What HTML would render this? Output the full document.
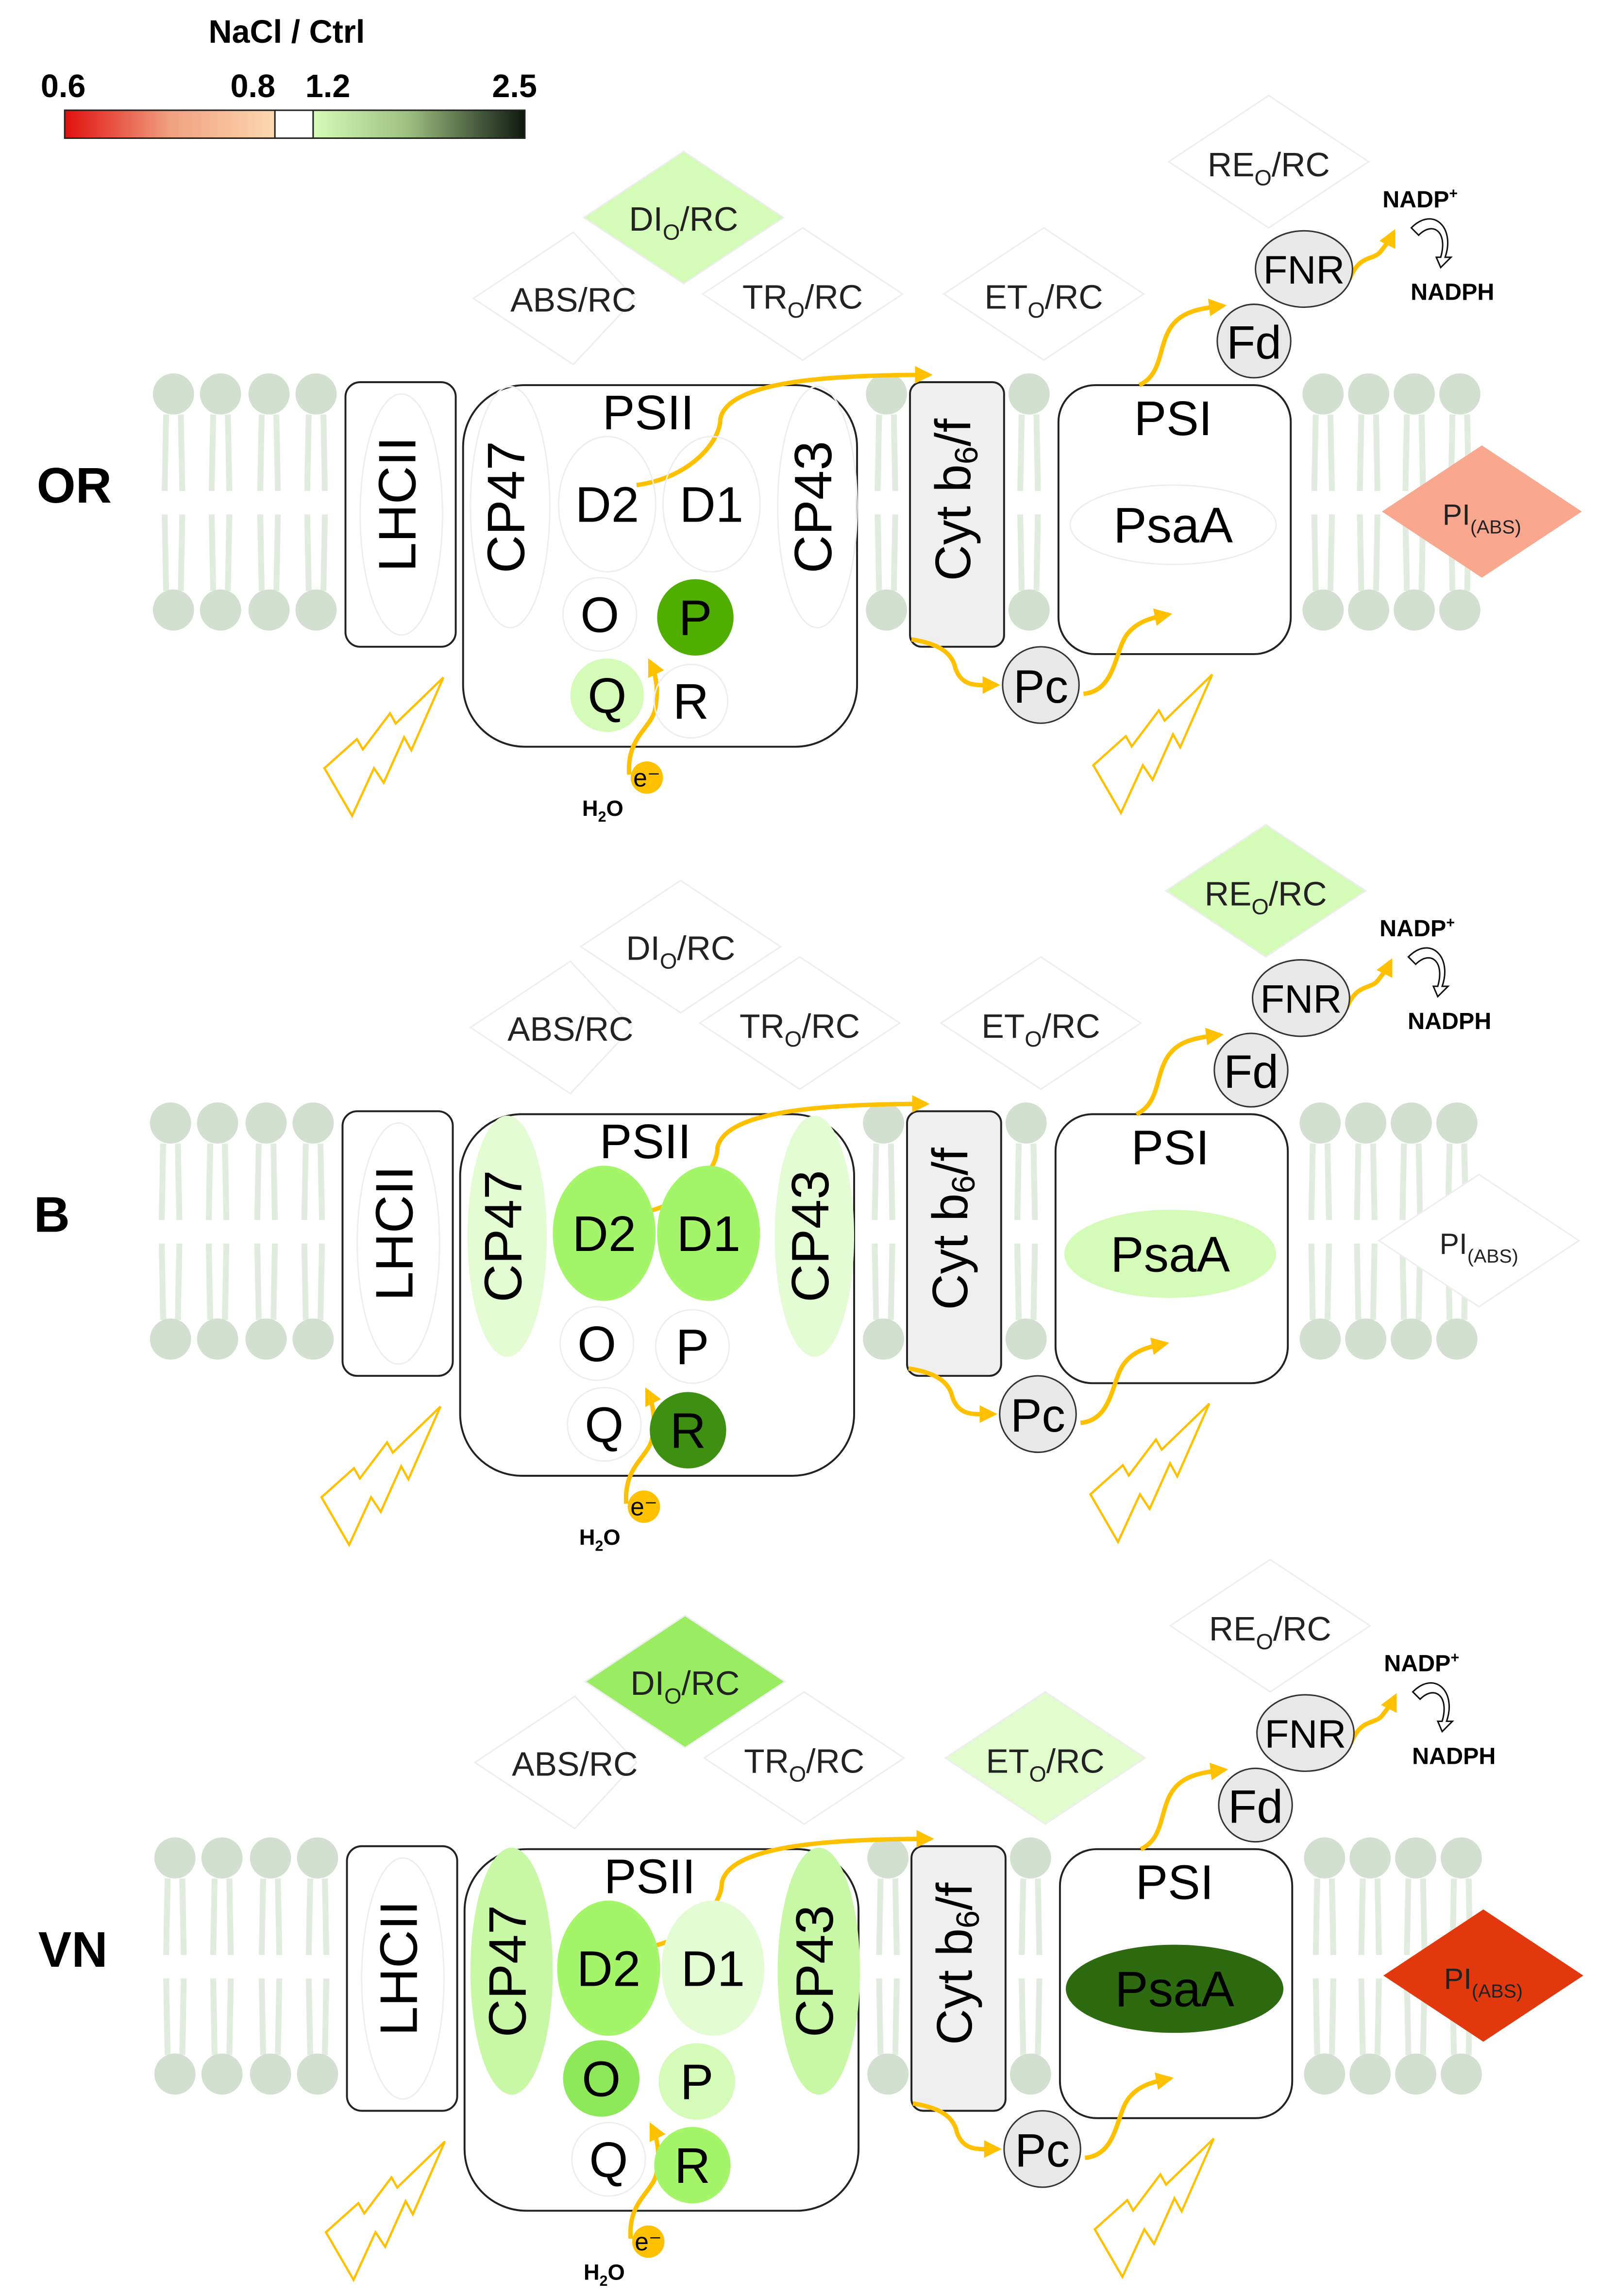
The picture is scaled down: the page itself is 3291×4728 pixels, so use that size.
<!DOCTYPE html>
<html><head><meta charset="utf-8"><style>html,body{margin:0;padding:0;background:#fff}svg{display:block}</style></head>
<body>
<svg xmlns="http://www.w3.org/2000/svg" width="3291" height="4728" viewBox="0 0 1087 1562" preserveAspectRatio="none" font-family="'Liberation Sans', sans-serif">
<defs>
<linearGradient id="gr" x1="0" x2="1"><stop offset="0" stop-color="#e01010"/><stop offset="0.5" stop-color="#f0a080"/><stop offset="1" stop-color="#fcd8b0"/></linearGradient>
<linearGradient id="gg" x1="0" x2="1"><stop offset="0" stop-color="#d4fbb8"/><stop offset="0.45" stop-color="#9cc080"/><stop offset="1" stop-color="#101810"/></linearGradient>
<marker id="ah" viewBox="0 0 10 10" refX="8" refY="5" markerWidth="4" markerHeight="4" orient="auto"><path d="M0,0L10,5L0,10z" fill="#FFC000"/></marker>
<g id="lip">
<circle cx="0" cy="268" r="14" fill="#d3dfd0"/>
<path d="M-5,282 L-6,334 M5,282 L6,334 M-6,350 L-5,402 M6,350 L5,402" stroke="#e2ebdf" stroke-width="4" fill="none"/>
<circle cx="0" cy="415" r="14" fill="#d3dfd0"/>
</g>
<polygon id="bolt" points="301.6,460.9 269.2,492.2 265.3,485.3 246.8,509.8 242.8,502.8 220.7,522.6 239.5,555 254.4,522.6 261,532.5 274.9,501.5 279.8,510.4" fill="none" stroke="#FFC000" stroke-width="1.5" stroke-linejoin="miter"/>
<g id="base">
<use href="#lip" x="118"/><use href="#lip" x="150"/><use href="#lip" x="183"/><use href="#lip" x="215"/>
<use href="#lip" x="603"/><use href="#lip" x="700"/>
<use href="#lip" x="900"/><use href="#lip" x="931"/><use href="#lip" x="962"/><use href="#lip" x="993"/>
<rect x="235" y="260" width="75" height="180" rx="10" fill="#fff" stroke="#222" stroke-width="1.3"/>
<ellipse cx="273" cy="350" rx="28" ry="82" fill="none" stroke="#eee"/>
<rect x="315" y="262" width="268" height="246" rx="42" fill="#fff" stroke="#222" stroke-width="1.3"/>
<rect x="619" y="260" width="64" height="180" rx="8" fill="#efefef" stroke="#222" stroke-width="1.3"/>
<rect x="720" y="262" width="158" height="183" rx="25" fill="#fff" stroke="#222" stroke-width="1.3"/>
<g fill="none" stroke="#eee" stroke-width="1">
<path d="M390,158 L432,203 L390,248 L322,203 Z"/>
<path d="M546,155 L614,200 L546,245 L478,200 Z"/>
<path d="M710,155 L778,200 L710,245 L642,200 Z"/>
<path d="M863,65 L931,110 L863,155 L795,110 Z"/>
<path d="M465,103 L533,148 L465,193 L397,148 Z"/>
</g>
<g fill="none" stroke="#FFC000" stroke-width="3">
<path d="M433,330 C470,325 490,300 490,285 C495,260 560,255 632,255" marker-end="url(#ah)"/>
<path d="M428,527 C426,500 445,495 446,480 C448,468 446,458 442,450" marker-end="url(#ah)"/>
<path d="M620,435 C640,438 648,445 650,455 C655,468 665,466 678,466" marker-end="url(#ah)"/>
<path d="M737,472 C760,470 758,440 768,430 C775,422 785,420 795,418" marker-end="url(#ah)"/>
<path d="M775,262 C790,255 788,238 795,225 C802,212 815,210 832,208" marker-end="url(#ah)"/>
<path d="M918,190 C925,172 935,178 940,170 C944,165 946,162 948,158" marker-end="url(#ah)"/>
</g>
<path d="M960,155 C975,140 990,155 983,175 L987,175 L980,182 L977,175 L980,175 C985,158 975,150 965,160 Z" fill="#fff" stroke="#111" stroke-width="1"/>
<use href="#bolt"/>
<use href="#bolt" x="523" y="-2"/>
<circle cx="440" cy="529" r="11" fill="#FFC000"/>
<circle cx="708" cy="466" r="26" fill="#e8e8e8" stroke="#333" stroke-width="1"/>
<circle cx="853" cy="232" r="25" fill="#e8e8e8" stroke="#333" stroke-width="1"/>
<ellipse cx="887" cy="183" rx="33" ry="26" fill="#e8e8e8" stroke="#333" stroke-width="1"/>
<text x="440" y="535" font-size="17" text-anchor="middle">e⁻</text>
<text x="410" y="555" font-size="15" font-weight="bold" text-anchor="middle">H<tspan font-size="10" dy="4">2</tspan><tspan dy="-4">O</tspan></text>
<text x="708" y="478" font-size="32" text-anchor="middle">Pc</text>
<text x="853" y="244" font-size="32" text-anchor="middle">Fd</text>
<text x="887" y="193" font-size="27" text-anchor="middle">FNR</text>
<text x="966" y="141" font-size="16" font-weight="bold" text-anchor="middle">NADP<tspan font-size="10" dy="-6">+</tspan></text>
<text x="988" y="204" font-size="16" font-weight="bold" text-anchor="middle">NADPH</text>
<text x="273" y="343" font-size="36" text-anchor="middle" dominant-baseline="middle" transform="rotate(-90 273 343)">LHCII</text>
<text x="441" y="292" font-size="33" text-anchor="middle">PSII</text>
<text x="798" y="296" font-size="33" text-anchor="middle">PSI</text>
<text x="651" y="340" font-size="34" text-anchor="middle" dominant-baseline="middle" transform="rotate(-90 651 340)">Cyt b<tspan font-size="22" dy="8">6</tspan><tspan dy="-8">/f</tspan></text>
<g font-size="23" text-anchor="middle" fill="#222">
<text x="390" y="212">ABS/RC</text>
<text x="546" y="210">TR<tspan font-size="15" dy="6">O</tspan><tspan dy="-6">/RC</tspan></text>
<text x="710" y="210">ET<tspan font-size="15" dy="6">O</tspan><tspan dy="-6">/RC</tspan></text>
<text x="863" y="120">RE<tspan font-size="15" dy="6">O</tspan><tspan dy="-6">/RC</tspan></text>
</g>
</g>
<g id="ptxt">
<text x="465" y="157" font-size="23" text-anchor="middle" fill="#222">DI<tspan font-size="15" dy="6">O</tspan><tspan dy="-6">/RC</tspan></text>
<text x="1008" y="357" font-size="20" text-anchor="middle" fill="#222">PI<tspan font-size="13" dy="6">(ABS)</tspan></text>
<text x="347" y="345" font-size="36" text-anchor="middle" dominant-baseline="middle" transform="rotate(-90 347 345)">CP47</text>
<text x="556" y="345" font-size="36" text-anchor="middle" dominant-baseline="middle" transform="rotate(-90 556 345)">CP43</text>
<text x="413" y="355" font-size="34" text-anchor="middle">D2</text>
<text x="484" y="355" font-size="34" text-anchor="middle">D1</text>
<text x="408" y="430" font-size="34" text-anchor="middle">O</text>
<text x="473" y="432" font-size="34" text-anchor="middle">P</text>
<text x="413" y="485" font-size="34" text-anchor="middle">Q</text>
<text x="470" y="489" font-size="34" text-anchor="middle">R</text>
<text x="798" y="369" font-size="34" text-anchor="middle">PsaA</text>
</g>
</defs>

<!-- legend -->
<text x="195" y="29" font-size="22" font-weight="bold" text-anchor="middle">NaCl / Ctrl</text>
<g font-size="22" font-weight="bold" text-anchor="middle"><text x="43" y="66">0.6</text><text x="172" y="66">0.8</text><text x="223" y="66">1.2</text><text x="350" y="66">2.5</text></g>
<rect x="44" y="75" width="143" height="19" fill="url(#gr)"/>
<rect x="213" y="75" width="144" height="19" fill="url(#gg)"/>
<rect x="44" y="75" width="313" height="19" fill="none" stroke="#222" stroke-width="1"/>
<rect x="187" y="75" width="26" height="19" fill="none" stroke="#222" stroke-width="1"/>

<!-- Panel OR -->
<g>
<path d="M465,103 L533,148 L465,193 L397,148 Z" fill="#d4fbb8"/>
<use href="#base"/>
<path d="M1008,303 L1076,348 L1008,393 L940,348 Z" fill="#f9a88f"/>
<g fill="none" stroke="#eee"><ellipse cx="347" cy="345" rx="27" ry="82"/><ellipse cx="556" cy="345" rx="27" ry="82"/><ellipse cx="413" cy="343" rx="33" ry="46"/><ellipse cx="484" cy="343" rx="33" ry="46"/><ellipse cx="798" cy="357" rx="70" ry="27"/><circle cx="408" cy="418" r="25"/><circle cx="470" cy="477" r="25"/></g>
<circle cx="473" cy="420" r="26" fill="#4fae00"/>
<circle cx="413" cy="473" r="25" fill="#d4fbb8"/>
<use href="#ptxt"/>
<text x="25" y="342" font-size="34" font-weight="bold">OR</text>
</g>

<!-- Panel B -->
<g transform="translate(-2,496)">
<path d="M863,65 L931,110 L863,155 L795,110 Z" fill="#d4fbb8"/>
<use href="#base"/>
<path d="M1008,303 L1076,348 L1008,393 L940,348 Z" fill="#fff" stroke="#eee"/>
<ellipse cx="347" cy="345" rx="27" ry="82" fill="#e4fcd4"/>
<ellipse cx="556" cy="345" rx="27" ry="82" fill="#e4fcd4"/>
<ellipse cx="413" cy="343" rx="35" ry="46" fill="#a5f56a"/>
<ellipse cx="484" cy="343" rx="35" ry="46" fill="#a5f56a"/>
<ellipse cx="798" cy="357" rx="72" ry="30" fill="#d4fbb8"/>
<g fill="none" stroke="#eee"><circle cx="408" cy="418" r="25"/><circle cx="473" cy="420" r="25"/><circle cx="413" cy="473" r="25"/></g>
<circle cx="470" cy="477" r="26" fill="#3f8f12"/>
<use href="#ptxt"/>
<text x="25" y="342" font-size="34" font-weight="bold">B</text>
</g>

<!-- Panel VN -->
<g transform="translate(1,996)">
<path d="M465,103 L533,148 L465,193 L397,148 Z" fill="#9aec62"/>
<path d="M710,155 L778,200 L710,245 L642,200 Z" fill="#e0fbcc"/>
<use href="#base"/>
<path d="M1008,303 L1076,348 L1008,393 L940,348 Z" fill="#e2380e"/>
<ellipse cx="347" cy="345" rx="28" ry="84" fill="#c8f7a6"/>
<ellipse cx="556" cy="345" rx="28" ry="84" fill="#c8f7a6"/>
<ellipse cx="413" cy="343" rx="35" ry="46" fill="#a5f56a"/>
<ellipse cx="484" cy="343" rx="35" ry="46" fill="#e4fcd4"/>
<circle cx="408" cy="418" r="26" fill="#8de85a"/>
<circle cx="473" cy="420" r="26" fill="#d4fbb8"/>
<circle cx="413" cy="473" r="25" fill="none" stroke="#eee"/>
<circle cx="470" cy="477" r="26" fill="#a5f56a"/>
<ellipse cx="798" cy="357" rx="74" ry="30" fill="#2e6b10"/>
<use href="#ptxt"/>
<text x="25" y="342" font-size="34" font-weight="bold">VN</text>
</g>
</svg>
</body></html>
